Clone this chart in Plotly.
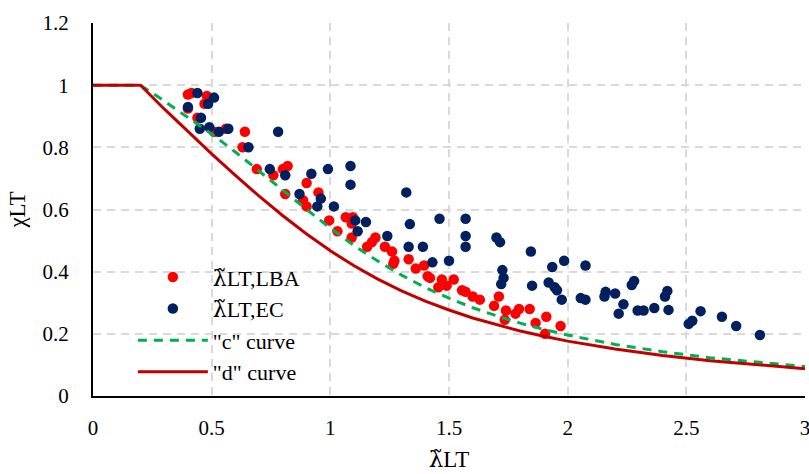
import plotly.graph_objects as go

# Non-dimensional slenderness and reduction factor, LBA-based points
lba_lambda = [0.40, 0.415, 0.47, 0.48, 0.40, 0.44, 0.51, 0.56, 0.64, 0.63, 0.69, 0.76,
              0.82, 0.80, 0.81, 0.885, 0.90, 0.95, 0.90, 0.995, 1.03, 1.065, 1.095, 1.09,
              1.09, 1.19, 1.175, 1.155, 1.23, 1.26, 1.27, 1.265, 1.33, 1.36, 1.395, 1.41,
              1.47, 1.52, 1.42, 1.455, 1.49, 1.555, 1.57, 1.60, 1.63, 1.69, 1.71, 1.735,
              1.74, 1.78, 1.795, 1.84, 1.865, 1.91, 1.905, 1.97]
lba_chi = [0.97, 0.975, 0.94, 0.965, 0.925, 0.895, 0.85, 0.86, 0.85, 0.80, 0.73, 0.71,
           0.74, 0.73, 0.65, 0.63, 0.685, 0.655, 0.61, 0.565, 0.53, 0.575, 0.575, 0.555,
           0.51, 0.51, 0.495, 0.48, 0.48, 0.465, 0.435, 0.425, 0.44, 0.41, 0.42, 0.385,
           0.375, 0.375, 0.38, 0.35, 0.355, 0.34, 0.335, 0.32, 0.31, 0.29, 0.32, 0.245,
           0.275, 0.265, 0.28, 0.28, 0.235, 0.255, 0.20, 0.225]

# EC-based points
ec_lambda = [0.44, 0.51, 0.485, 0.40, 0.455, 0.45, 0.49, 0.53, 0.57, 0.78, 0.655, 0.745,
             0.81, 0.87, 0.92, 0.99, 1.085, 1.085, 0.96, 0.945, 1.015, 1.105, 1.15, 1.115,
             1.24, 1.32, 1.335, 1.33, 1.39, 1.46, 1.43, 1.50, 1.57, 1.57, 1.57, 1.70,
             1.715, 1.725, 1.73, 1.72, 1.845, 1.85, 1.935, 1.92, 1.945, 1.955, 1.975, 1.985,
             2.055, 2.075, 2.075, 2.16, 2.155, 2.20, 2.235, 2.215, 2.27, 2.28, 2.295, 2.32,
             2.365, 2.41, 2.42, 2.425, 2.51, 2.525, 2.56, 2.65, 2.71, 2.81]
ec_chi = [0.975, 0.96, 0.94, 0.93, 0.895, 0.86, 0.865, 0.85, 0.86, 0.85, 0.80, 0.73,
          0.71, 0.65, 0.715, 0.73, 0.74, 0.68, 0.635, 0.61, 0.61, 0.565, 0.56, 0.53,
          0.515, 0.655, 0.553, 0.48, 0.48, 0.57, 0.43, 0.435, 0.57, 0.515, 0.48, 0.51,
          0.495, 0.405, 0.38, 0.36, 0.465, 0.355, 0.415, 0.365, 0.35, 0.34, 0.31, 0.435,
          0.315, 0.31, 0.42, 0.335, 0.32, 0.33, 0.295, 0.265, 0.357, 0.37, 0.275, 0.275,
          0.283, 0.32, 0.338, 0.277, 0.232, 0.242, 0.273, 0.255, 0.225, 0.196]

# Buckling curves c and d
curve_lambda = [0.0, 0.2, 0.3, 0.4, 0.5, 0.6, 0.7, 0.8, 0.9, 1.0, 1.1, 1.2, 1.3, 1.4,
                1.5, 1.6, 1.7, 1.8, 1.9, 2.0, 2.2, 2.4, 2.6, 2.8, 3.0]
curve_c = [1.0, 1.0, 0.949, 0.897, 0.843, 0.785, 0.725, 0.662, 0.600, 0.540, 0.484,
           0.434, 0.389, 0.349, 0.3145, 0.284, 0.258, 0.2345, 0.214, 0.196, 0.166,
           0.1425, 0.123, 0.108, 0.095]
curve_d = [1.0, 1.0, 0.9235, 0.850, 0.779, 0.710, 0.643, 0.580, 0.521, 0.467, 0.419,
           0.376, 0.3385, 0.3055, 0.2766, 0.251, 0.229, 0.209, 0.192, 0.1766, 0.151,
           0.130, 0.1134, 0.0997, 0.088]

x_ticks = [0, 0.5, 1, 1.5, 2, 2.5, 3]
x_tick_text = ["0", "0.5", "1", "1.5", "2", "2.5", "3"]
y_ticks = [0, 0.2, 0.4, 0.6, 0.8, 1.0, 1.2]
y_tick_text = ["0", "0.2", "0.4", "0.6", "0.8", "1", "1.2"]

FONT = "'Liberation Serif'"
# lambda with a combining tilde, set in a font that stacks the accent
LAMBDA_T = "<span style=\"font-family:'DejaVu Serif'\">λ\u0303</span>"

fig = go.Figure()
fig.add_trace(go.Scatter(
    x=lba_lambda, y=lba_chi, mode="markers", name=LAMBDA_T + "LT,LBA",
    legendgroup="a",
    marker=dict(color="#FF0000", size=10.5, line=dict(width=0)),
))
fig.add_trace(go.Scatter(
    x=ec_lambda, y=ec_chi, mode="markers", name=LAMBDA_T + "LT,EC",
    legendgroup="b",
    marker=dict(color="#002060", size=10.5, line=dict(width=0)),
))
fig.add_trace(go.Scatter(
    x=curve_lambda, y=curve_c, mode="lines", name="\"c\" curve",
    legendgroup="c",
    line=dict(color="#00B050", width=3, dash="9px,7px"),
))
fig.add_trace(go.Scatter(
    x=curve_lambda, y=curve_d, mode="lines", name="\"d\" curve",
    legendgroup="d",
    line=dict(color="#C00000", width=3),
))

fig.update_layout(
    width=809, height=474,
    margin=dict(l=93, r=4, t=23, b=78, autoexpand=False),
    paper_bgcolor="white", plot_bgcolor="white",
    font=dict(family=FONT, color="#000000", size=21),
    showlegend=True,
    legend=dict(
        x=0.056, y=0.375, xanchor="left", yanchor="top",
        bgcolor="rgba(0,0,0,0)", font=dict(family=FONT, size=22),
        itemwidth=70, tracegroupgap=6, traceorder="normal",
    ),
    xaxis=dict(
        range=[0, 3], tickvals=x_ticks, ticktext=x_tick_text,
        showgrid=True, gridcolor="#D9D9D9", griddash="8px,6px", gridwidth=1.5,
        zeroline=False, showline=True, linecolor="#000000", linewidth=2,
        ticks="", ticklabelstandoff=12, ticklabeloverflow="allow", automargin=False,
        tickfont=dict(family=FONT, size=21),
        title=dict(text=LAMBDA_T + "LT", font=dict(family=FONT, size=23), standoff=12),
    ),
    yaxis=dict(
        range=[0, 1.2], tickvals=y_ticks, ticktext=y_tick_text,
        showgrid=True, gridcolor="#D9D9D9", griddash="8px,6px", gridwidth=1.5,
        zeroline=False, showline=True, linecolor="#000000", linewidth=2,
        ticks="", ticklabelstandoff=18, ticklabeloverflow="allow", automargin=False,
        tickfont=dict(family=FONT, size=21),
        title=dict(text="χLT", font=dict(family=FONT, size=23), standoff=10),
    ),
)

fig.write_html("out.html")
